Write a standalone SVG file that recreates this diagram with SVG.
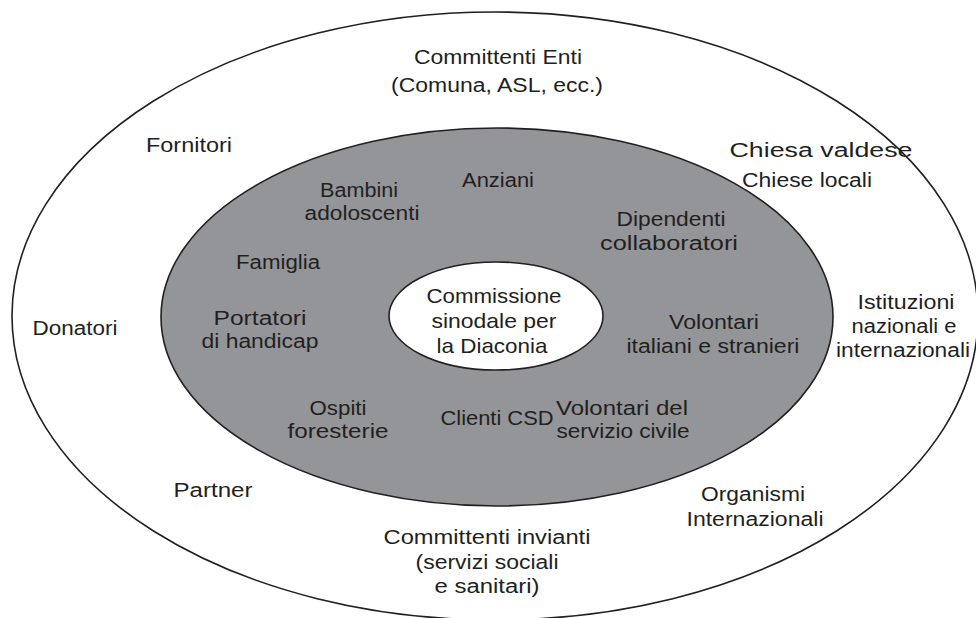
<svg xmlns="http://www.w3.org/2000/svg" width="976" height="618" viewBox="0 0 976 618">
<style>
text{font-family:"Liberation Sans","DejaVu Sans",Arial,sans-serif;font-size:20px;fill:#231f20;text-anchor:middle}
.c{font-size:21px}
.ring{stroke:#231f20;stroke-width:1.6}
</style>
<rect width="976" height="618" fill="#ffffff"/>
<g id="outer">
<ellipse class="ring" cx="495" cy="316" rx="483" ry="304" fill="#ffffff"/>
<text x="498" y="64" textLength="168" lengthAdjust="spacingAndGlyphs">Committenti Enti</text>
<text x="497" y="92" textLength="212" lengthAdjust="spacingAndGlyphs">(Comuna, ASL, ecc.)</text>
<text x="189" y="152" textLength="86" lengthAdjust="spacingAndGlyphs">Fornitori</text>
<text x="821" y="157" textLength="183" lengthAdjust="spacingAndGlyphs">Chiesa valdese</text>
<text x="807" y="187" textLength="130" lengthAdjust="spacingAndGlyphs">Chiese locali</text>
<text x="906" y="309" textLength="97" lengthAdjust="spacingAndGlyphs">Istituzioni</text>
<text x="904" y="333" textLength="105" lengthAdjust="spacingAndGlyphs">nazionali e</text>
<text x="903" y="357" textLength="134" lengthAdjust="spacingAndGlyphs">internazionali</text>
<text x="75" y="335" textLength="85" lengthAdjust="spacingAndGlyphs">Donatori</text>
<text x="213" y="497" textLength="79" lengthAdjust="spacingAndGlyphs">Partner</text>
<text x="753" y="501" textLength="104" lengthAdjust="spacingAndGlyphs">Organismi</text>
<text x="755" y="526" textLength="137" lengthAdjust="spacingAndGlyphs">Internazionali</text>
<text x="487" y="544" textLength="207" lengthAdjust="spacingAndGlyphs">Committenti invianti</text>
<text x="487" y="569" textLength="143" lengthAdjust="spacingAndGlyphs">(servizi sociali</text>
<text x="487" y="593" textLength="105" lengthAdjust="spacingAndGlyphs">e sanitari)</text>
</g>
<g id="middle">
<ellipse class="ring" cx="497" cy="317" rx="336" ry="189" fill="#939598"/>
<text x="498" y="187" textLength="72" lengthAdjust="spacingAndGlyphs">Anziani</text>
<text x="359" y="197" textLength="78" lengthAdjust="spacingAndGlyphs">Bambini</text>
<text x="362" y="220" textLength="115" lengthAdjust="spacingAndGlyphs">adoloscenti</text>
<text x="671" y="226" textLength="109" lengthAdjust="spacingAndGlyphs">Dipendenti</text>
<text x="669" y="250" textLength="138" lengthAdjust="spacingAndGlyphs">collaboratori</text>
<text x="278" y="269" textLength="84" lengthAdjust="spacingAndGlyphs">Famiglia</text>
<text x="260" y="325" textLength="93" lengthAdjust="spacingAndGlyphs">Portatori</text>
<text x="260" y="348" textLength="117" lengthAdjust="spacingAndGlyphs">di handicap</text>
<text x="714" y="329" textLength="90" lengthAdjust="spacingAndGlyphs">Volontari</text>
<text x="713" y="353" textLength="173" lengthAdjust="spacingAndGlyphs">italiani e stranieri</text>
<text x="338" y="415" textLength="57" lengthAdjust="spacingAndGlyphs">Ospiti</text>
<text x="338" y="438" textLength="101" lengthAdjust="spacingAndGlyphs">foresterie</text>
<text x="497" y="425" textLength="113" lengthAdjust="spacingAndGlyphs">Clienti CSD</text>
<text x="622" y="415" textLength="132" lengthAdjust="spacingAndGlyphs">Volontari del</text>
<text x="623" y="438" textLength="133" lengthAdjust="spacingAndGlyphs">servizio civile</text>
</g>
<g id="center">
<ellipse class="ring" cx="496" cy="316" rx="107" ry="54" fill="#ffffff"/>
<text class="c" x="494" y="303" textLength="135" lengthAdjust="spacingAndGlyphs">Commissione</text>
<text class="c" x="494" y="328" textLength="125" lengthAdjust="spacingAndGlyphs">sinodale per</text>
<text class="c" x="492" y="353" textLength="111" lengthAdjust="spacingAndGlyphs">la Diaconia</text>
</g>
<g id="connectors"></g>
</svg>
